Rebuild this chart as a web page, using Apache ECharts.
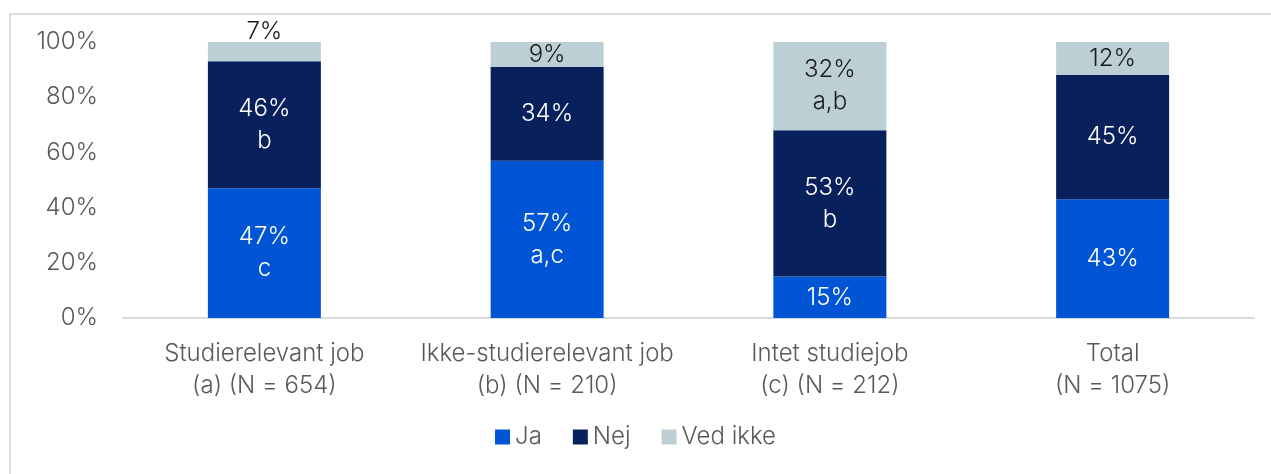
<!DOCTYPE html>
<html>
<head>
<meta charset="utf-8">
<script src="https://cdn.jsdelivr.net/npm/echarts@6/dist/echarts.min.js"></script>
<style>
  html, body { margin: 0; padding: 0; background: #fff; }
  #frame { position: absolute; left: 9px; top: 13px; width: 1262px; height: 461px;
           border-left: 2px solid #dcdcdc; border-top: 2px solid #dcdcdc; }
  #chart { position: absolute; left: 0; top: 0; width: 1271px; height: 474px; }
</style>
</head>
<body>
<div id="frame"></div>
<div id="chart"></div>
<script>
// data
let categories = ['Studierelevant job\n(a) (N = 654)', 'Ikke-studierelevant job\n(b) (N = 210)', 'Intet studiejob\n(c) (N = 212)', 'Total\n(N = 1075)']
let ja = [47, 57, 15, 43]
let nej = [46, 34, 53, 45]
let vedIkke = [7, 9, 32, 12]
let jaSig = ['c', 'a,c', '', '']
let nejSig = ['b', '', 'b', '']
let vedIkkeSig = ['', '', 'a,b', '']
let yTicks = [0, 20, 40, 60, 80, 100]

let font = 'Inter'
let fw = 300
let fs = 24
let myChart = echarts.init(document.getElementById('chart'), null, { renderer: 'canvas' })

function labelFmt(sig) {
  return function (p) {
    let s = sig[p.dataIndex]
    return p.value + '%' + (s ? '\n' + s : '')
  }
}

function mkSeries(name, data, sig, color, textColor) {
  return {
    name: name,
    type: 'bar',
    stack: 'all',
    barWidth: 113,
    data: data,
    itemStyle: { color: color },
    label: {
      show: true,
      position: 'inside',
      formatter: labelFmt(sig),
      color: textColor,
      fontFamily: font,
      fontWeight: fw,
      fontSize: fs,
      lineHeight: 32
    }
  }
}

let vedData = vedIkke.map(function (v, i) {
  // den lille 7% label sidder over søjlen i originalen
  return i === 0 ? { value: v, label: { offset: [0, -20] } } : v
})

let option = {
  animation: false,
  grid: { left: 123, right: 17, top: 42, bottom: 156 },
  legend: {
    bottom: 20,
    left: 'center',
    itemWidth: 15,
    itemHeight: 15,
    itemGap: 31,
    icon: 'rect',
    textStyle: { color: '#595959', fontFamily: font, fontWeight: fw, fontSize: fs },
    data: ['Ja', 'Nej', 'Ved ikke']
  },
  xAxis: {
    type: 'category',
    data: categories,
    axisLine: { lineStyle: { color: '#d9d9d9', width: 2 } },
    axisTick: { show: false },
    axisLabel: { interval: 0, color: '#595959', fontFamily: font, fontWeight: fw, fontSize: fs, lineHeight: 32, margin: 20 }
  },
  yAxis: {
    type: 'value',
    min: yTicks[0],
    max: yTicks[yTicks.length - 1],
    interval: 20,
    splitLine: { show: false },
    axisLine: { show: false },
    axisLabel: { color: '#595959', fontFamily: font, fontWeight: fw, fontSize: fs, margin: 25, formatter: '{value}%' }
  },
  series: [
    mkSeries('Ja', ja, jaSig, '#0055d4', '#ffffff'),
    mkSeries('Nej', nej, nejSig, '#08215c', '#ffffff'),
    mkSeries('Ved ikke', vedData, vedIkkeSig, '#bccfd4', '#1a1a1a')
  ]
}

myChart.setOption(option)
</script>
</body>
</html>
